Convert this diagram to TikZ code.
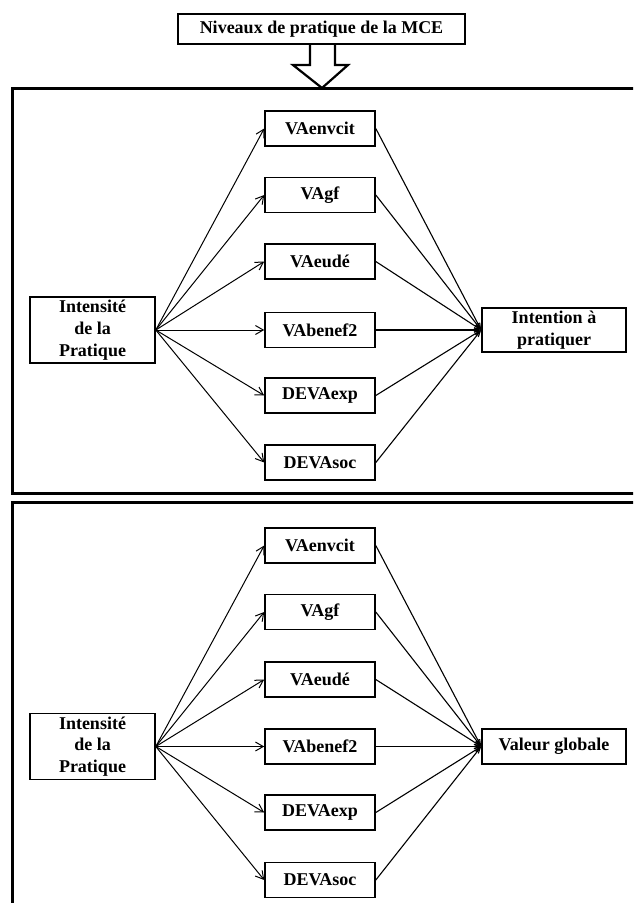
\documentclass[tikz,border=0pt]{standalone}
\usepackage{fontspec}
\setmainfont{Liberation Serif}
\usetikzlibrary{arrows.meta}
\begin{document}
\begin{tikzpicture}[x=1pt,y=-1pt,
  txt/.style={font=\bfseries\fontsize{18}{21.7}\selectfont, align=center, inner sep=0pt},
  vbox/.style={txt, draw, line width=1.6pt, minimum width=110pt, minimum height=35pt},
  srcbox/.style={txt, draw, line width=1.6pt, minimum width=125pt, minimum height=66pt},
  tgtbox/.style={txt, draw, line width=1.6pt, minimum width=144pt},
  titlebox/.style={txt, draw, line width=2.6pt, minimum width=287pt, minimum height=30pt},
  panel/.style={draw, line width=3pt},
  link/.style={line width=1pt, -{Straight Barb[angle=60:9pt]}},
  plain/.style={line width=1.1pt, -{Straight Barb[angle=40:6pt]}}
]
\clip (0,0) rectangle (633,903);
\fill[white] (0,0) rectangle (633,903);

% title and hollow arrow
\node[titlebox] (title) at (321.5,29) {Niveaux de pratique de la MCE};
\draw[line width=2.2pt, line join=miter] (310,44) -- (310,65) -- (293,65) -- (322,88) -- (348,65) -- (335,65) -- (335,44);

% panels
\draw[panel] (12,88) rectangle (650,493);
\draw[panel] (12,502) rectangle (650,920);

% ---------- top panel ----------
\node[srcbox] (s1) at (92.5,330) {Intensité\\de la\\Pratique};
\node[tgtbox, minimum height=44pt] (t1) at (554,330) {Intention à\\pratiquer};
\node[vbox] (a1) at (320,128.5) {VAenvcit};
\node[vbox] (b1) at (320,195) {VAgf};
\node[vbox] (c1) at (320,261.5) {VAeudé};
\node[vbox] (d1) at (320,330) {VAbenef2};
\node[vbox] (e1) at (320,395.5) {DEVAexp};
\node[vbox] (f1) at (320,462.5) {DEVAsoc};
\foreach \n in {a1,b1,c1,d1,e1,f1}{
  \draw[link] (s1.east) -- (\n.west);
  \draw[plain] (\n.east) -- (t1.west);
}

% ---------- bottom panel ----------
\node[srcbox] (s2) at (92.5,746.5) {Intensité\\de la\\Pratique};
\node[tgtbox, minimum height=35pt] (t2) at (554,746.5) {Valeur globale};
\node[vbox] (a2) at (320,545.5) {VAenvcit};
\node[vbox] (b2) at (320,612) {VAgf};
\node[vbox] (c2) at (320,679.5) {VAeudé};
\node[vbox] (d2) at (320,746.5) {VAbenef2};
\node[vbox] (e2) at (320,812.5) {DEVAexp};
\node[vbox] (f2) at (320,880) {DEVAsoc};
\foreach \n in {a2,b2,c2,d2,e2,f2}{
  \draw[link] (s2.east) -- (\n.west);
  \draw[plain] (\n.east) -- (t2.west);
}
\end{tikzpicture}
\end{document}
